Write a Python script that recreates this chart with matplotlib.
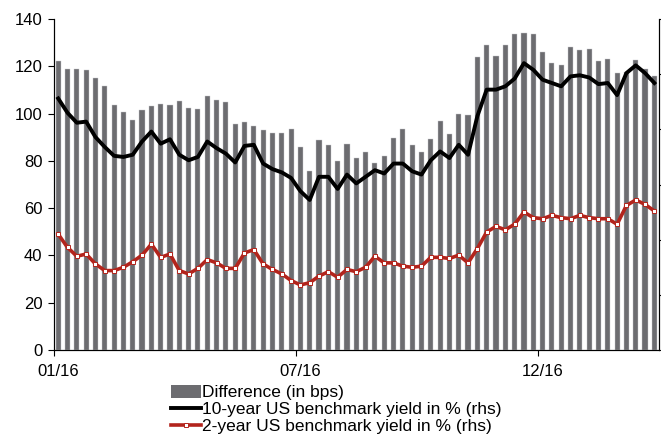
import numpy as np
import matplotlib
matplotlib.use("Agg")
import matplotlib.pyplot as plt
from matplotlib.lines import Line2D
from matplotlib.patches import Patch

plt.rcParams['font.family'] = ['Liberation Sans', 'DejaVu Sans']

# weekly spread between 10y and 2y US yields, in bps
spread_bps = [122.4, 118.7, 118.7, 118.6, 115.0, 111.7, 103.8, 100.7, 97.3, 101.5,
              103.2, 104.1, 103.5, 105.2, 102.4, 102.1, 107.4, 105.6, 105.0, 95.7,
              96.4, 94.6, 93.2, 91.8, 91.8, 93.6, 85.9, 75.7, 88.7, 86.7,
              80.1, 87.0, 81.1, 83.6, 79.0, 82.1, 89.7, 93.5, 86.7, 83.6,
              89.2, 96.7, 91.4, 99.8, 99.4, 123.8, 129.0, 124.4, 129.0, 133.7,
              134.2, 133.8, 126.0, 121.2, 120.7, 128.2, 126.9, 127.2, 122.1, 122.9,
              117.3, 117.6, 122.5, 118.9, 115.9]

# yields in %, right-hand scale
yield_10y = [2.28, 2.15, 2.06, 2.07, 1.93, 1.84, 1.76, 1.75, 1.77, 1.89,
             1.98, 1.87, 1.91, 1.77, 1.72, 1.75, 1.89, 1.83, 1.78, 1.70,
             1.85, 1.86, 1.69, 1.64, 1.61, 1.56, 1.44, 1.36, 1.57, 1.57,
             1.46, 1.59, 1.51, 1.57, 1.63, 1.60, 1.69, 1.69, 1.62, 1.59,
             1.72, 1.80, 1.74, 1.86, 1.77, 2.12, 2.36, 2.36, 2.39, 2.46,
             2.60, 2.54, 2.45, 2.42, 2.39, 2.48, 2.49, 2.47, 2.41, 2.42,
             2.31, 2.51, 2.58, 2.51, 2.42]

yield_2y = [1.05, 0.93, 0.85, 0.87, 0.78, 0.72, 0.72, 0.75, 0.80, 0.86,
            0.96, 0.84, 0.87, 0.72, 0.69, 0.74, 0.82, 0.79, 0.74, 0.74,
            0.88, 0.91, 0.78, 0.73, 0.69, 0.63, 0.59, 0.61, 0.67, 0.71,
            0.66, 0.73, 0.71, 0.75, 0.85, 0.79, 0.79, 0.76, 0.75, 0.76,
            0.84, 0.84, 0.83, 0.86, 0.79, 0.92, 1.07, 1.12, 1.09, 1.14,
            1.25, 1.20, 1.19, 1.22, 1.20, 1.19, 1.22, 1.20, 1.19, 1.19,
            1.14, 1.31, 1.36, 1.32, 1.26]

tick_labels = ['01/16', '07/16', '12/16']
label_idx = [0, 26, 52]

bar_color = '#6c6c70'
red = '#b3241c'

x = np.arange(len(spread_bps))

fig = plt.figure(figsize=(6.61, 4.37), dpi=100)
ax = fig.add_axes([0.081, 0.199, 0.916, 0.7575])
ax.bar(x, spread_bps, width=0.55, color=bar_color, edgecolor='#c8c8cc', linewidth=0.3)
ax.set_xlim(-0.5, len(x) - 0.5)
ax.set_ylim(0, 140)
ax.set_yticks(np.arange(0, 141, 20))
ax.tick_params(axis='y', direction='out', length=4, width=0.8, labelsize=12, pad=4)

# ticks sit between categories, labels on the category itself
ax.set_xticks([i - 0.5 for i in label_idx])
ax.set_xticklabels([])
ax.set_xticks(label_idx, minor=True)
ax.set_xticklabels(tick_labels, minor=True, fontsize=12)
ax.tick_params(axis='x', which='major', direction='out', length=4, width=0.8)
ax.tick_params(axis='x', which='minor', length=0, pad=10)
ax.spines['top'].set_visible(False)
for s in ['left', 'bottom', 'right']:
    ax.spines[s].set_linewidth(0.8)

ax2 = ax.twinx()
ax2.plot(x, yield_10y, color='black', lw=2.8, solid_joinstyle='round')
ax2.plot(x, yield_2y, color=red, lw=2.6, marker='s', markersize=3.2,
         markerfacecolor='white', markeredgecolor=red, markeredgewidth=0.7)
ax2.set_ylim(0, 3.0)
ax2.set_yticks(np.arange(0, 3.01, 0.5))
ax2.set_yticklabels([])
ax2.tick_params(axis='y', direction='out', length=4, width=0.8)
ax2.spines['top'].set_visible(False)
ax2.spines['right'].set_linewidth(0.8)

handles = [
    Patch(facecolor=bar_color, edgecolor='none'),
    Line2D([], [], color='black', lw=2.8),
    Line2D([], [], color=red, lw=2.6, marker='s', markersize=3.2,
           markerfacecolor='white', markeredgecolor=red, markeredgewidth=0.7),
]
labels = ['Difference (in bps)',
          '10-year US benchmark yield in % (rhs)',
          '2-year US benchmark yield in % (rhs)']
fig.legend(handles, labels, loc='upper left', bbox_to_anchor=(0.258, 0.12),
           frameon=False, fontsize=12.5, handlelength=1.75, handleheight=0.8,
           handletextpad=0.05, labelspacing=0.08, borderpad=0, borderaxespad=0)

fig.savefig('out.png', dpi=100)
